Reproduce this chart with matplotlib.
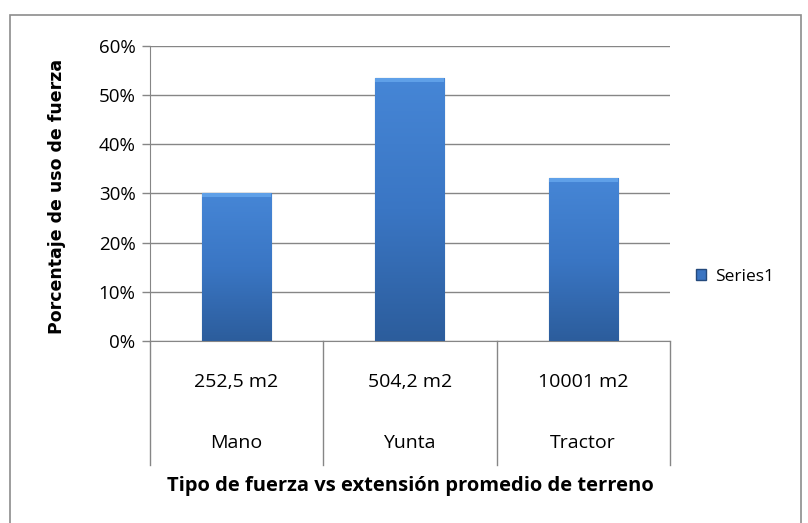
import numpy as np
import matplotlib
matplotlib.use("Agg")
import matplotlib.pyplot as plt
from matplotlib.patches import Rectangle
from matplotlib.ticker import PercentFormatter
import matplotlib.transforms as mtrans

# data
tipos = ["Mano", "Yunta", "Tractor"]
extensiones = ["252,5 m2", "504,2 m2", "10001 m2"]
porcentajes = [0.30, 0.534, 0.331]
serie = "Series1"

GRID = "#868686"
label_font = ["Open Sans", "DejaVu Sans"]

fig = plt.figure(figsize=(8.08, 5.23), dpi=100)
# outer chart frame
fig.patches.append(Rectangle((10 / 808, -0.05), 791 / 808, 1.05 - 15 / 523,
                             transform=fig.transFigure, fill=False,
                             edgecolor="#8c8c8c", lw=1.2))

ax = fig.add_axes([149.5 / 808, 1 - 341 / 523, 520.5 / 808, 295.3 / 523])
x = np.arange(len(tipos))
bars = ax.bar(x, porcentajes, width=0.4, color="#3a74c2",
              edgecolor="#24497c", lw=0.8, zorder=3)

# vertical gradient inside each bar (light top, dark bottom)
grad = np.linspace(0, 1, 256).reshape(-1, 1)
cmap = matplotlib.colors.LinearSegmentedColormap.from_list(
    "b", ["#2c5d9c", "#3a76c4", "#4686d6"])
for b in bars:
    x0, w, h = b.get_x(), b.get_width(), b.get_height()
    im = ax.imshow(grad, cmap=cmap, origin="lower", aspect="auto",
                   extent=[x0, x0 + w, 0, h], zorder=3.5)
    im.set_clip_path(b)
    ax.add_patch(Rectangle((x0, h - 0.008), w, 0.008, color="#5fa0e8",
                           zorder=3.6, lw=0))

ax.set_xlim(-0.5, len(tipos) - 0.5)
ax.set_ylim(0, 0.6)
ax.set_yticks(np.arange(0, 0.61, 0.1))
ax.yaxis.set_major_formatter(PercentFormatter(1.0, decimals=0))
ax.grid(axis="y", color=GRID, lw=1, zorder=0)
for s in ["top", "right"]:
    ax.spines[s].set_visible(False)
for s in ["left", "bottom"]:
    ax.spines[s].set_color(GRID)
ax.tick_params(axis="y", colors=GRID, length=6, width=1, labelcolor="black",
               labelsize=13.5, pad=4)
for t in ax.get_yticklabels():
    t.set_family(label_font)
ax.set_xticks([])

# multi-level category axis below
depth = 124 / 295.3
tr = mtrans.blended_transform_factory(ax.transData, ax.transAxes)
for xb in np.arange(len(tipos) + 1) - 0.5:
    ax.plot([xb, xb], [0, -depth], transform=tr, color=GRID, lw=1,
            clip_on=False)
for i in range(len(tipos)):
    ax.text(x[i], -(381.7 - 341) / 295.3, extensiones[i], transform=tr,
            ha="center", va="center", fontsize=14, family=label_font)
    ax.text(x[i], -(443 - 341) / 295.3, tipos[i], transform=tr,
            ha="center", va="center", fontsize=14, family=label_font)

fig.text(410 / 808, 1 - 486 / 523,
         "Tipo de fuerza vs extensión promedio de terreno",
         ha="center", va="center", fontsize=14.5, fontweight="bold",
         family=label_font)
fig.text(57 / 808, 1 - 196 / 523, "Porcentaje de uso de fuerza",
         rotation=90, ha="center", va="center", fontsize=12.5,
         fontweight="bold", family="DejaVu Sans")

handle = Rectangle((0, 0), 1, 1, facecolor="#3a74c2", edgecolor="#24497c")
fig.legend([handle], [serie], loc="center left",
           bbox_to_anchor=(680 / 808, 1 - 277 / 523), frameon=False,
           handlelength=0.6, handleheight=0.6, handletextpad=0.5,
           prop={"family": label_font, "size": 12.5})

fig.savefig("out.png", dpi=100)
